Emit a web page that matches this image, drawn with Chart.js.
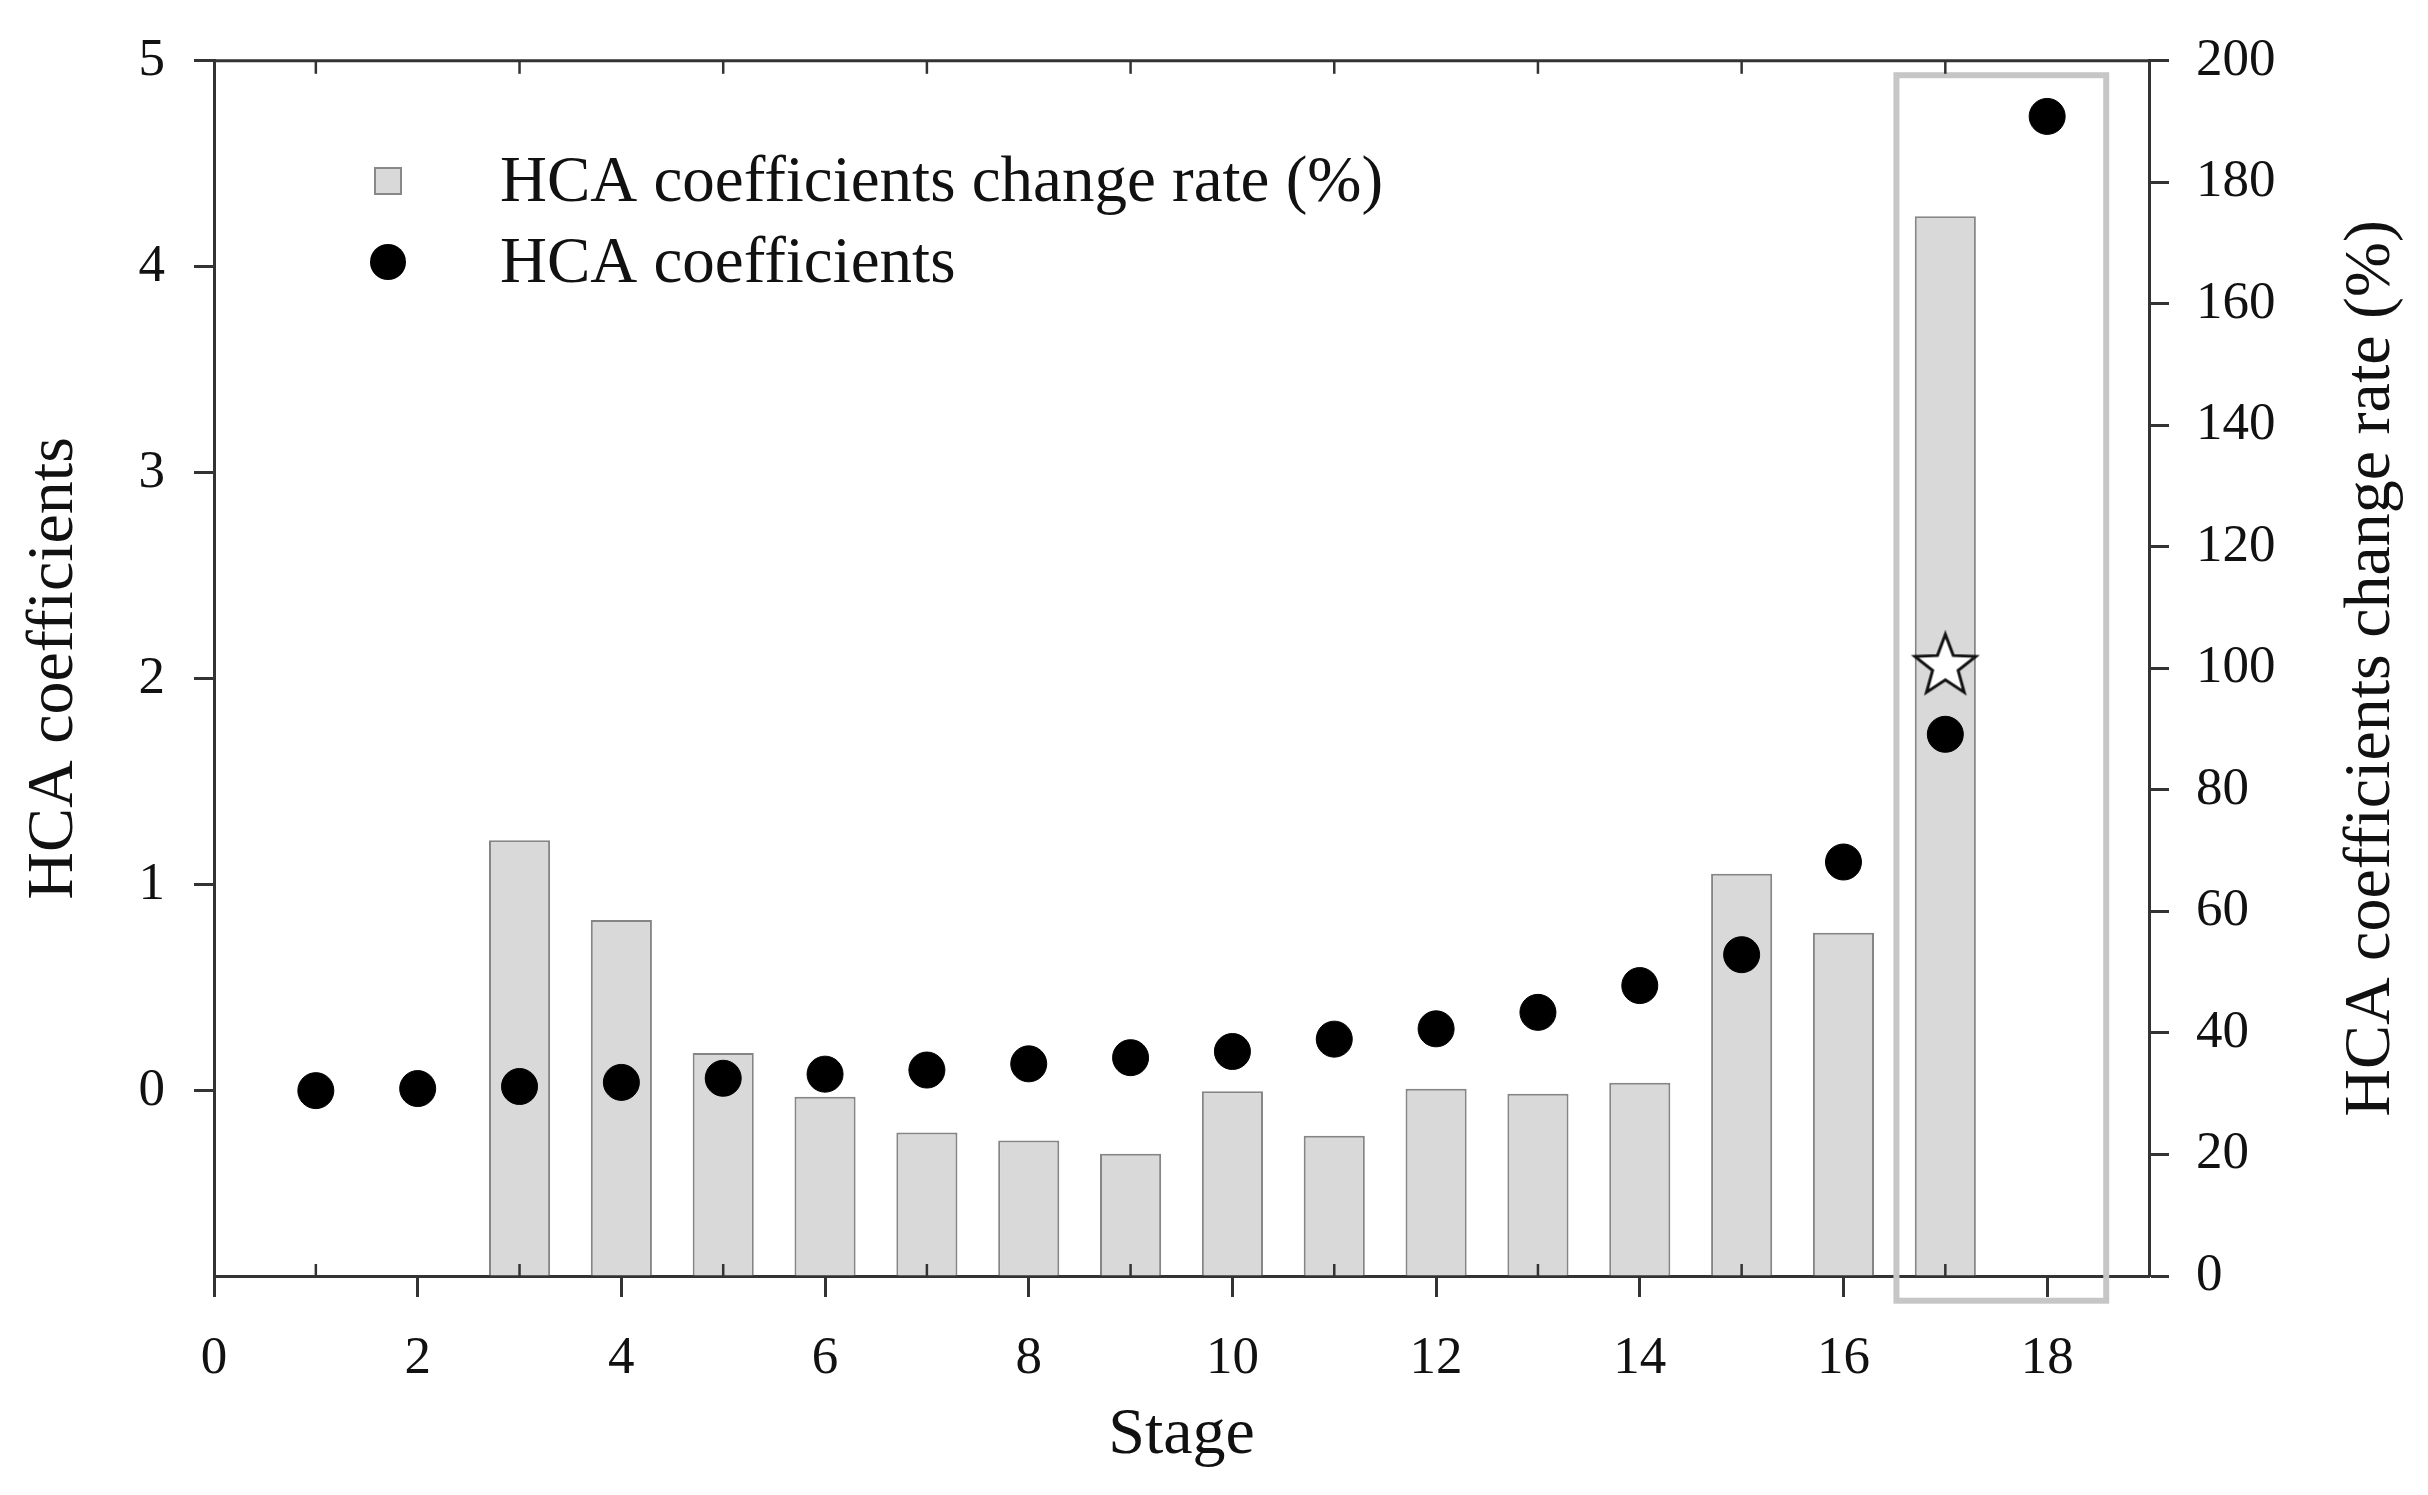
<!DOCTYPE html>
<html><head><meta charset="utf-8">
<script src="https://cdn.jsdelivr.net/npm/chart.js@4/dist/chart.umd.min.js"></script>
<style>html,body{margin:0;padding:0;background:#fff}#wrap{width:2428px;height:1495px;position:relative}</style>
</head><body><div id="wrap"><canvas id="c"></canvas></div>
<script>
// ---- data ----
const coefStages = [1,2,3,4,5,6,7,8,9,10,11,12,13,14,15,16,17,18];
const coefficients = [0.00,0.01,0.02,0.04,0.06,0.08,0.10,0.13,0.16,0.19,0.25,0.30,0.38,0.51,0.66,1.11,1.73,4.73];
const rateStages = [3,4,5,6,7,8,9,10,11,12,13,14,15,16,17];
const changeRate = [71.7,58.6,36.7,29.5,23.6,22.3,20.1,30.4,23.1,30.8,30.0,31.8,66.2,56.5,174.4];
const starStage = [17];
const starValue = [2.06];
const xTicks = [0,2,4,6,8,10,12,14,16,18];
const xMinorTicks = [1,3,5,7,9,11,13,15,17];
const leftTicks = [0,1,2,3,4,5];
const rightTicks = [0,20,40,60,80,100,120,140,160,180,200];
const highlightStages = [16.52,18.58];
const highlightCoef = [-1.02,4.93];
const labels = {
  rate: 'HCA coefficients change rate (%)',
  coef: 'HCA coefficients',
  x: 'Stage'
};

const FONT = "'Liberation Serif','Times New Roman',serif";
const AXIS = '#333';
const TXT = '#111';

function makeStar(r){
  const s = Math.ceil(r*2+8);
  const c = document.createElement('canvas'); c.width = c.height = s;
  const g = c.getContext('2d');
  g.beginPath();
  for (let i=0;i<10;i++){
    const a = -Math.PI/2 + i*Math.PI/5;
    const rr = (i%2) ? r*0.42 : r;
    g.lineTo(s/2 + rr*Math.cos(a), s/2 + rr*Math.sin(a));
  }
  g.closePath();
  g.fillStyle = '#fff'; g.fill();
  g.lineWidth = 3; g.lineJoin='miter'; g.strokeStyle = '#111'; g.stroke();
  return c;
}

const extras = {
  id: 'extras',
  afterDraw(chart){
    const {ctx, chartArea:a, scales} = chart;
    const x = scales.x, yl = scales.yL;
    ctx.save();
    // highlight box
    ctx.strokeStyle = '#c6c6c6'; ctx.lineWidth = 6;
    const bx0 = x.getPixelForValue(highlightStages[0]), bx1 = x.getPixelForValue(highlightStages[1]);
    const by0 = yl.getPixelForValue(highlightCoef[1]), by1 = yl.getPixelForValue(highlightCoef[0]);
    ctx.strokeRect(bx0, by0, bx1-bx0, by1-by0);
    // top border
    ctx.strokeStyle = AXIS; ctx.lineWidth = 3;
    ctx.beginPath(); ctx.moveTo(a.left-1, a.top); ctx.lineTo(a.right+1, a.top); ctx.stroke();
    // minor ticks
    ctx.lineWidth = 2.5;
    xMinorTicks.forEach(v=>{
      const px = x.getPixelForValue(v);
      ctx.beginPath(); ctx.moveTo(px, a.bottom); ctx.lineTo(px, a.bottom-12); ctx.stroke();
      ctx.beginPath(); ctx.moveTo(px, a.top); ctx.lineTo(px, a.top+13); ctx.stroke();
    });
    // right axis title
    ctx.fillStyle = TXT; ctx.font = "66px " + FONT;
    ctx.textAlign = 'center'; ctx.textBaseline = 'middle';
    ctx.translate(2372, (a.top+a.bottom)/2);
    ctx.rotate(-Math.PI/2);
    ctx.fillText(labels.rate, 0, 0);
    ctx.restore();
    // legend
    ctx.save();
    const ds = chart.data.datasets;
    ctx.font = "65px " + FONT; ctx.fillStyle = TXT; ctx.textBaseline = 'middle'; ctx.textAlign='left';
    const lx = 388, ly1 = 181, ly2 = 262, tx = 500;
    ctx.fillStyle = ds[0].backgroundColor; ctx.fillRect(lx-13, ly1-13, 26, 26);
    ctx.strokeStyle = '#888'; ctx.lineWidth = 2; ctx.strokeRect(lx-13, ly1-13, 26, 26);
    ctx.fillStyle = '#000'; ctx.beginPath(); ctx.arc(lx, ly2, 18, 0, Math.PI*2); ctx.fill();
    ctx.fillStyle = TXT;
    ctx.fillText(ds[0].label, tx, ly1+3);
    ctx.fillText(ds[1].label, tx, ly2+3);
    ctx.restore();
  }
};

new Chart(document.getElementById('c'), {
  data: {
    datasets: [
      { type:'bar', label: labels.rate, yAxisID:'yR', xAxisID:'x',
        data: rateStages.map((s,i)=>({x:s, y:changeRate[i]})),
        backgroundColor:'#d9d9d9', borderColor:'#858585', borderWidth:2,
        barPercentage:0.6, categoryPercentage:1.0, order:3 },
      { type:'scatter', label: labels.coef, yAxisID:'yL', xAxisID:'x',
        data: coefStages.map((s,i)=>({x:s, y:coefficients[i]})),
        backgroundColor:'#000', borderColor:'#000', pointRadius:18, pointHoverRadius:18, order:2 },
      { type:'scatter', label:'star', yAxisID:'yL', xAxisID:'x',
        data: starStage.map((s,i)=>({x:s, y:starValue[i]})),
        pointStyle: makeStar(32), pointRadius:32, order:1 }
    ]
  },
  options: {
    responsive:true, maintainAspectRatio:false, devicePixelRatio:1, animation:false,
    layout:{padding:{top:53,left:0,right:0,bottom:0}},
    plugins:{legend:{display:false}, tooltip:{enabled:false}},
    scales:{
      x:{ type:'linear', min:0, max:19, position:'bottom', offset:false,
        afterBuildTicks:s=>{s.ticks = xTicks.map(v=>({value:v}));},
        afterFit:s=>{s.height = 219;},
        ticks:{font:{family:FONT,size:53}, color:TXT, padding:30, maxRotation:0, autoSkip:false},
        grid:{drawOnChartArea:false, offset:false, tickLength:21, tickWidth:3, tickColor:AXIS},
        border:{color:AXIS, width:3},
        title:{display:true, text:labels.x, font:{family:FONT,size:66}, color:TXT, padding:{top:0,bottom:20}}
      },
      yL:{ type:'linear', position:'left', min:-0.9, max:5,
        afterBuildTicks:s=>{s.ticks = leftTicks.map(v=>({value:v}));},
        afterFit:s=>{s.width = 214;},
        ticks:{font:{family:FONT,size:53}, color:TXT, padding:29},
        grid:{drawOnChartArea:false, tickLength:20, tickWidth:3, tickColor:AXIS},
        border:{color:AXIS, width:3},
        title:{display:true, text:labels.coef, font:{family:FONT,size:66}, color:TXT, padding:{top:15,bottom:0}}
      },
      yR:{ type:'linear', position:'right', min:0, max:200,
        afterBuildTicks:s=>{s.ticks = rightTicks.map(v=>({value:v}));},
        afterFit:s=>{s.width = 279;},
        ticks:{font:{family:FONT,size:53}, color:TXT, padding:27},
        grid:{drawOnChartArea:false, tickLength:20, tickWidth:3, tickColor:AXIS},
        border:{color:AXIS, width:3}
      }
    }
  },
  plugins:[extras]
});
</script></body></html>
